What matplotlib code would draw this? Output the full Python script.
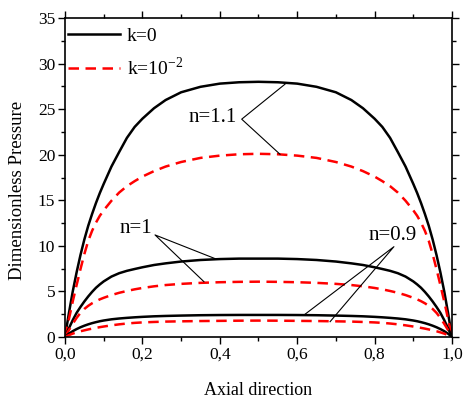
import matplotlib
matplotlib.use("Agg")
import matplotlib.pyplot as plt
from matplotlib.ticker import MultipleLocator, FuncFormatter

# Axial positions (shared by every profile)
x = [0.0, 0.01, 0.02, 0.03, 0.04, 0.05, 0.06, 0.07, 0.08, 0.09, 0.10,
     0.12, 0.14, 0.16, 0.18, 0.20, 0.23, 0.26, 0.30, 0.35, 0.40, 0.45, 0.50,
     0.55, 0.60, 0.65, 0.70, 0.74, 0.77, 0.80, 0.82, 0.84, 0.86, 0.88,
     0.90, 0.91, 0.92, 0.93, 0.94, 0.95, 0.96, 0.97, 0.98, 0.99, 1.0]

# Dimensionless pressure, k = 0
p_k0_n11 = [0.0, 2.6, 5.0, 7.1, 9.0, 10.7, 12.2, 13.5, 14.7, 15.8, 16.8,
            18.7, 20.3, 21.85, 23.05, 23.95, 25.1, 26.0, 26.85, 27.45, 27.8, 27.95, 28.0,
            27.95, 27.8, 27.45, 26.85, 26.0, 25.1, 23.95, 23.05, 21.85, 20.3, 18.7,
            16.8, 15.8, 14.7, 13.5, 12.2, 10.7, 9.0, 7.1, 5.0, 2.6, 0.0]
p_k0_n10 = [0.0, 0.95, 1.85, 2.65, 3.3, 3.9, 4.45, 4.95, 5.4, 5.77, 6.1,
            6.63, 7.0, 7.26, 7.46, 7.65, 7.9, 8.08, 8.28, 8.45, 8.55, 8.6, 8.6,
            8.6, 8.55, 8.45, 8.28, 8.08, 7.9, 7.65, 7.46, 7.26, 7.0, 6.63,
            6.1, 5.77, 5.4, 4.95, 4.45, 3.9, 3.3, 2.65, 1.85, 0.95, 0.0]
p_k0_n09 = [0.0, 0.36, 0.64, 0.87, 1.07, 1.24, 1.39, 1.52, 1.63, 1.73, 1.81,
            1.94, 2.03, 2.1, 2.16, 2.21, 2.27, 2.31, 2.35, 2.39, 2.41, 2.42, 2.42,
            2.42, 2.41, 2.39, 2.35, 2.31, 2.27, 2.21, 2.16, 2.1, 2.03, 1.94,
            1.81, 1.73, 1.63, 1.52, 1.39, 1.24, 1.07, 0.87, 0.64, 0.36, 0.0]

# Dimensionless pressure, k = 10^-2
p_k2_n11 = [0.0, 1.95, 3.9, 5.7, 7.45, 9.1, 10.55, 11.65, 12.55, 13.3, 13.9,
            14.95, 15.85, 16.55, 17.1, 17.6, 18.2, 18.7, 19.2, 19.65, 19.9, 20.05, 20.1,
            20.05, 19.9, 19.65, 19.2, 18.7, 18.2, 17.6, 17.1, 16.55, 15.85, 14.95,
            13.9, 13.3, 12.55, 11.65, 10.55, 9.1, 7.45, 5.7, 3.9, 1.95, 0.0]
p_k2_n10 = [0.0, 0.75, 1.45, 2.1, 2.65, 3.08, 3.42, 3.7, 3.93, 4.13, 4.3,
            4.6, 4.85, 5.05, 5.23, 5.38, 5.56, 5.7, 5.83, 5.94, 6.01, 6.05, 6.07,
            6.05, 6.01, 5.94, 5.83, 5.7, 5.56, 5.38, 5.23, 5.05, 4.85, 4.6,
            4.3, 4.13, 3.93, 3.7, 3.42, 3.08, 2.65, 2.1, 1.45, 0.75, 0.0]
p_k2_n09 = [0.0, 0.2, 0.37, 0.51, 0.63, 0.73, 0.83, 0.92, 1.0, 1.08, 1.15,
            1.28, 1.39, 1.48, 1.55, 1.6, 1.65, 1.69, 1.72, 1.75, 1.77, 1.79, 1.8,
            1.79, 1.77, 1.75, 1.72, 1.69, 1.65, 1.6, 1.55, 1.48, 1.39, 1.28,
            1.15, 1.08, 1.0, 0.92, 0.83, 0.73, 0.63, 0.51, 0.37, 0.2, 0.0]

legend_labels = ["k=0", r"k=10$^{\mathregular{-2}}$"]

plt.rcParams["font.family"] = ["Liberation Serif", "DejaVu Serif"]
plt.rcParams["mathtext.fontset"] = "custom"
plt.rcParams["mathtext.rm"] = "Liberation Serif"

fig = plt.figure(figsize=(4.63, 4.01), dpi=100)
ax = fig.add_axes([0.1404, 0.1596, 0.8358, 0.7955])

black_kw = dict(color="black", lw=1.8, solid_joinstyle="round")
red_kw = dict(color="#ff0000", lw=1.8, linestyle=(0, (4.2, 2.6)))

l1, = ax.plot(x, p_k0_n11, **black_kw)
l2, = ax.plot(x, p_k2_n11, **red_kw)
ax.plot(x, p_k0_n10, **black_kw)
ax.plot(x, p_k2_n10, **red_kw)
ax.plot(x, p_k0_n09, **black_kw)
ax.plot(x, p_k2_n09, **red_kw)

ax.set_xlim(0, 1.0)
ax.set_ylim(0, 35)

ax.xaxis.set_major_locator(MultipleLocator(0.2))
ax.xaxis.set_minor_locator(MultipleLocator(0.1))
ax.yaxis.set_major_locator(MultipleLocator(5))
ax.yaxis.set_minor_locator(MultipleLocator(2.5))
ax.xaxis.set_major_formatter(FuncFormatter(lambda v, p: f"{v:.1f}".replace(".", ",")))
ax.yaxis.set_major_formatter(FuncFormatter(lambda v, p: f"{v:.0f}"))

ax.tick_params(which="both", direction="out", top=True, right=True, width=1.0,
               labelsize=12.5, pad=2)
ax.tick_params(which="major", length=5)
ax.tick_params(which="minor", length=3)
for s in ax.spines.values():
    s.set_linewidth(1.2)

ax.set_xlabel("Axial direction", fontsize=13)
ax.set_ylabel("Dimensionless Pressure", fontsize=13.5)
ax.xaxis.set_label_coords(0.5, -0.142)
ax.yaxis.set_label_coords(-0.101, 0.46)

ax.legend([l1, l2], legend_labels, loc="upper left", bbox_to_anchor=(0.0, 0.98),
          frameon=False, fontsize=14, handlelength=2.68, handletextpad=0.36,
          borderaxespad=0.0, borderpad=0.15, labelspacing=0.6)

# Labels with leader lines pointing at each pair of curves
ann_kw = dict(fontsize=15, ha="center", va="center")
line_kw = dict(color="black", lw=0.8)

ax.text(0.381, 24.1, "n=1.1", **ann_kw)
ax.plot([0.5685, 0.4566, 0.5556], [27.74, 23.9, 20.05], **line_kw)

ax.text(0.1835, 11.85, "n=1", **ann_kw)
ax.plot([0.392, 0.2326, 0.359], [8.53, 11.2, 6.07], **line_kw)

ax.text(0.8475, 11.14, "n=0.9", **ann_kw)
ax.plot([0.620, 0.850, 0.685], [2.49, 9.91, 1.68], **line_kw)

fig.savefig("out.png", dpi=100)
